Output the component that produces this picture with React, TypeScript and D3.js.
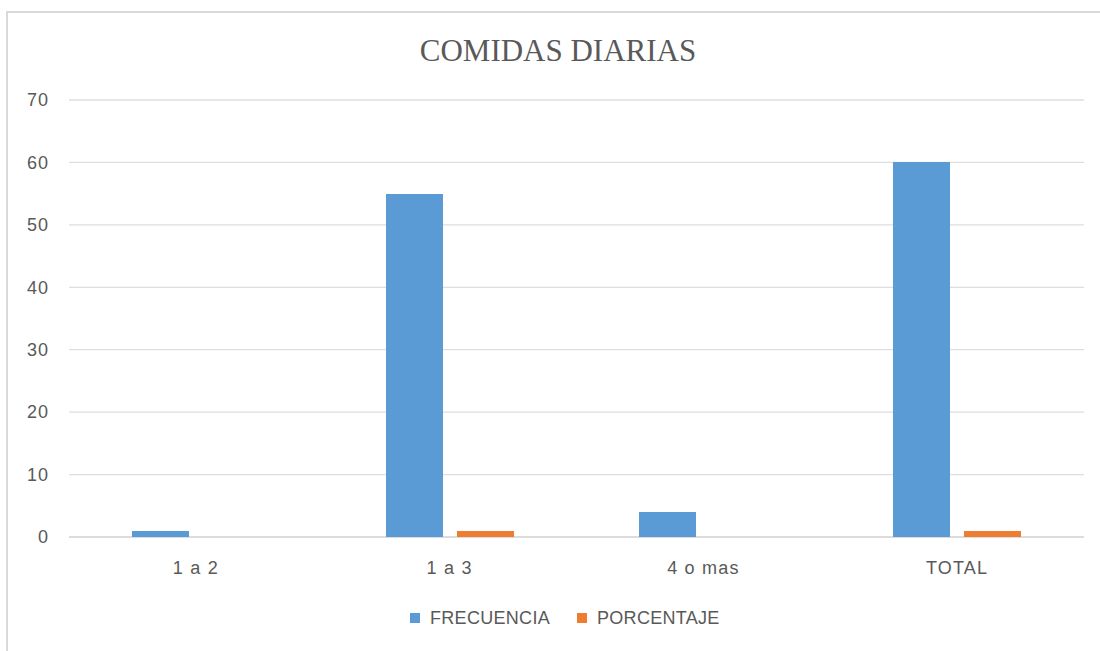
import React from "react";
import * as d3 from "d3";

const categories = ["1 a 2", "1 a 3", "4 o mas", "TOTAL"];
const frecuencia = [1, 55, 4, 60];
const porcentaje = [0.017, 0.92, 0.067, 1];
const seriesNames = ["FRECUENCIA", "PORCENTAJE"];
const yTicks = [0, 10, 20, 30, 40, 50, 60, 70];

const colors = ["#5B9BD5", "#ED7D31"];
const textColor = "#595959";
const labelFont = "'Liberation Sans', Arial, sans-serif";

const App = () => {
  const width = 1100;
  const height = 651;
  const margin = { top: 100, right: 16, bottom: 114, left: 69 };

  const x = d3
    .scaleBand()
    .domain(categories)
    .range([margin.left, width - margin.right]);

  const y = d3
    .scaleLinear()
    .domain([0, 70])
    .range([height - margin.bottom, margin.top]);

  const barW = 57;
  const gap = 14;
  const series = [frecuencia, porcentaje];

  return (
    <svg
      width={width}
      height={height}
      style={{ position: "absolute", left: 0, top: 0, background: "#fff" }}
    >
      <rect x={7} y={12} width={width + 20} height={height + 20} fill="#fff" stroke="#d9d9d9" strokeWidth={2} />
      <text
        x={558}
        y={61}
        textAnchor="middle"
        fontFamily="'Liberation Serif', 'Times New Roman', serif"
        fontSize={31}
        fill={textColor}
      >
        COMIDAS DIARIAS
      </text>

      {yTicks.map((t) => (
        <g key={t}>
          <line
            x1={margin.left}
            x2={width - margin.right}
            y1={y(t)}
            y2={y(t)}
            stroke={t === 0 ? "#d0d0d0" : "#dedede"}
            strokeWidth={1.3}
          />
          <text
            x={49}
            y={y(t)}
            dy="0.35em"
            textAnchor="end"
            fontFamily={labelFont}
            fontSize={18}
            letterSpacing={1}
            fill={textColor}
          >
            {t}
          </text>
        </g>
      ))}

      {categories.map((c, i) => {
        const cx = x(c)! + x.bandwidth() / 2;
        return (
          <g key={c}>
            {series.map((s, j) => {
              const bx = j === 0 ? cx - gap / 2 - barW : cx + gap / 2;
              return (
                <rect
                  key={j}
                  x={bx}
                  y={y(s[i])}
                  width={barW}
                  height={y(0) - y(s[i])}
                  fill={colors[j]}
                  shapeRendering="crispEdges"
                />
              );
            })}
            <text
              x={cx}
              y={574}
              textAnchor="middle"
              fontFamily={labelFont}
              fontSize={18}
              letterSpacing={1.2}
              fill={textColor}
            >
              {c}
            </text>
          </g>
        );
      })}

      {seriesNames.map((name, j) => {
        const lx = j === 0 ? 410 : 577;
        return (
          <g key={name}>
            <rect x={lx} y={613} width={10} height={10} fill={colors[j]} />
            <text
              x={lx + 20}
              y={618}
              dy="0.35em"
              fontFamily={labelFont}
              fontSize={18}
              letterSpacing={0.3}
              fill={textColor}
            >
              {name}
            </text>
          </g>
        );
      })}
    </svg>
  );
};

export default App;
